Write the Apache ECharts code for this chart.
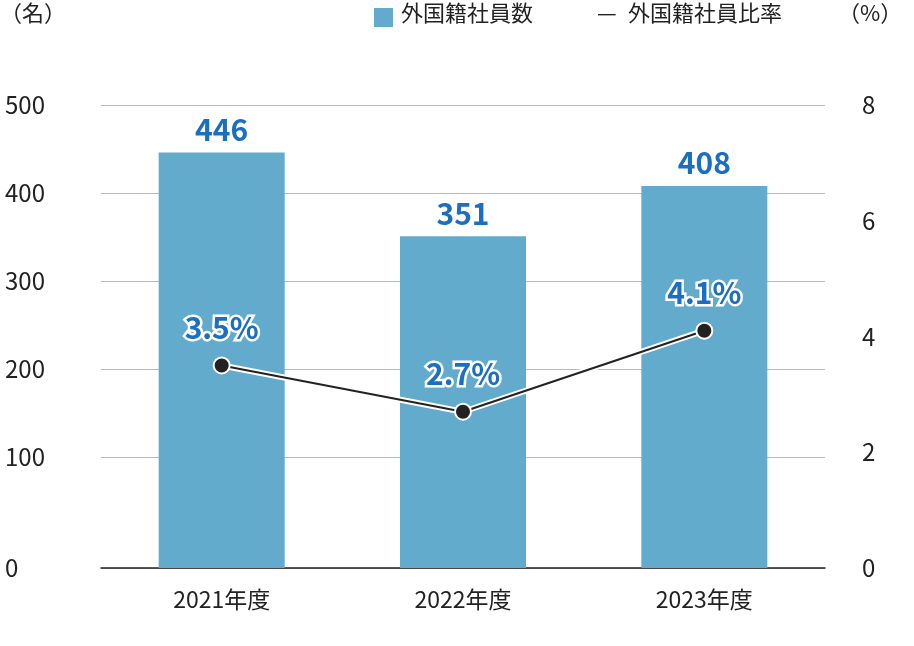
<!DOCTYPE html>
<html lang="ja">
<head>
<meta charset="utf-8">
<script src="https://cdn.jsdelivr.net/npm/echarts@6/dist/echarts.min.js"></script>
<style>body{margin:0}#c{width:914px;height:646px}</style>
</head>
<body>
<div id="c"></div>
<script>
var categories = ['2021年度', '2022年度', '2023年度'];
var staffCount = [446, 351, 408];
var staffRatio = [3.5, 2.7, 4.1];
var leftTicks = [0, 100, 200, 300, 400, 500];
// the left axis has a short gap below the 100 line, as in the original
var baseGap = 26;

var font = '"Noto Sans CJK JP", "Noto Sans", sans-serif';
var txt = function (x, y, s) {
    return { type: 'text', left: x, top: y, style: { text: s, fill: '#222', font: '22px ' + font } };
};
var chart = echarts.init(document.getElementById('c'));
chart.setOption({
    animation: false,
    textStyle: { fontFamily: font },
    grid: { left: 101, right: 89, top: 105, bottom: 78 },
    graphic: [
        txt(0, 2, '（名）'),
        { type: 'rect', left: 374, top: 8, shape: { width: 19, height: 19 }, style: { fill: '#62abcc' } },
        txt(401, 2, '外国籍社員数'),
        txt(597, 2, '—'),
        txt(628, 2, '外国籍社員比率'),
        txt(838, 2, '（%）')
    ],
    xAxis: {
        type: 'category', data: categories,
        axisTick: { show: false },
        axisLine: { lineStyle: { color: '#222', width: 1.5 } },
        axisLabel: { fontSize: 23, color: '#222', margin: 20 }
    },
    yAxis: [
        {
            type: 'value', min: 0, max: 500 + baseGap,
            axisLabel: {
                fontSize: 24, color: '#222', margin: 96, align: 'left',
                customValues: leftTicks.map(function (v) { return v === 0 ? 0 : v + baseGap; }),
                formatter: function (v) { return v === 0 ? '0' : String(v - baseGap); }
            },
            axisTick: { show: false, customValues: leftTicks.map(function (v) { return v === 0 ? 0 : v + baseGap; }) },
            splitLine: { lineStyle: { color: '#bbb' } },
            axisLine: { show: false }
        },
        {
            type: 'value', min: 0, max: 8, interval: 2,
            axisLabel: { fontSize: 24, color: '#222', margin: 37 },
            splitLine: { show: false }, axisLine: { show: false }, axisTick: { show: false }
        }
    ],
    series: [
        {
            type: 'bar', stack: 'n', data: categories.map(function () { return baseGap; }), barWidth: 126,
            itemStyle: { color: '#62abcc' }, silent: true
        },
        {
            name: '外国籍社員数', type: 'bar', stack: 'n', data: staffCount, barWidth: 126,
            itemStyle: { color: '#62abcc' },
            label: { show: true, position: 'top', distance: 8, fontSize: 30, fontWeight: 'bold', color: '#1a6fc0' }
        },
        {
            type: 'line', yAxisIndex: 1, data: staffRatio, symbol: 'none', silent: true,
            lineStyle: { color: '#fff', width: 6 }, z: 3
        },
        {
            name: '外国籍社員比率', type: 'line', yAxisIndex: 1, data: staffRatio,
            symbol: 'circle', symbolSize: 16,
            lineStyle: { color: '#222', width: 2 },
            itemStyle: { color: '#222', borderColor: '#fff', borderWidth: 2 },
            label: {
                show: true, position: 'top', distance: 14, fontSize: 30, fontWeight: 'bold',
                color: '#1a6fc0', textBorderColor: '#fff', textBorderWidth: 5,
                formatter: function (p) { return p.value.toFixed(1) + '%'; }
            },
            z: 4
        }
    ]
});
</script>
</body>
</html>
